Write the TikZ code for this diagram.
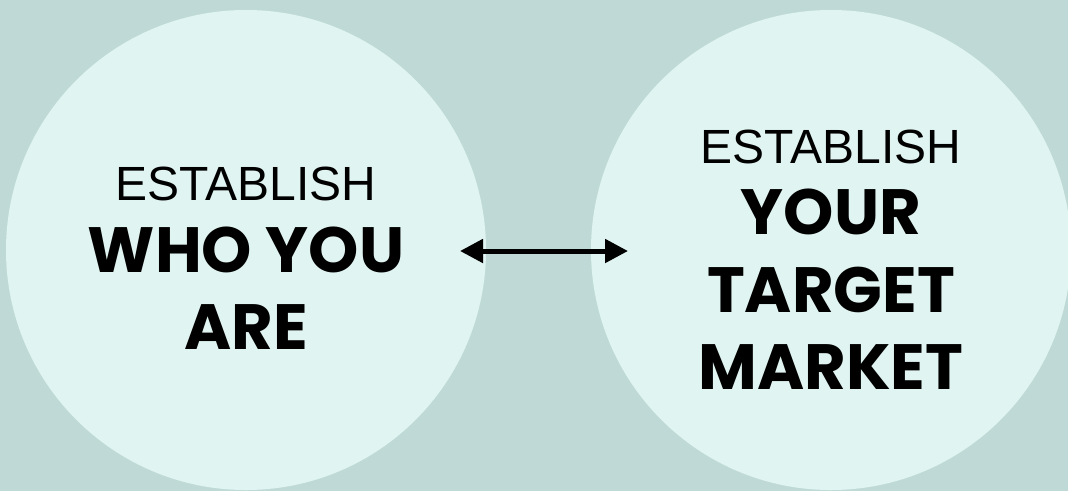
\documentclass[tikz,border=0pt]{standalone}
\usepackage{fontspec}
\setmainfont{Liberation Sans}
\newfontfamily\headfont{Poppins}
\usetikzlibrary{arrows.meta}
\definecolor{bgcol}{RGB}{191,218,214}
\definecolor{circcol}{RGB}{224,244,241}
\tikzset{
  thin line/.style={font=\fontsize{48}{48}\selectfont, anchor=base, inner sep=0pt},
  bold line/.style={font=\headfont\bfseries\fontsize{64}{64}\selectfont, anchor=base, inner sep=0pt},
  bubble/.style={circle, fill=circcol, minimum size=480pt, inner sep=0pt, draw=none},
  link/.style={line width=5pt, {Triangle[length=23pt,width=23pt]}-{Triangle[length=23pt,width=23pt]}}
}
\begin{document}
\begin{tikzpicture}[x=1pt,y=-1pt]
\fill[bgcol] (0,0) rectangle (1068,491);
\useasboundingbox (0,0) rectangle (1068,491);
\begin{scope}
\clip (0,0) rectangle (1068,491);
\node[bubble] (left) at (246,250) {};
\node[bubble] (right) at (831,250) {};
\end{scope}
\node[thin line] (l1) at (246,200) {ESTABLISH};
\node[bold line] (l2) at (246,272) {WHO YOU};
\node[bold line] (l3) at (246,349) {ARE};
\node[thin line] (r1) at (831,163) {ESTABLISH};
\node[bold line] (r2) at (831,234) {YOUR};
\node[bold line] (r3) at (831,312) {TARGET};
\node[bold line] (r4) at (831,389) {MARKET};
\coordinate (a1) at (460,251);
\coordinate (a2) at (628,251);
\draw[link] (a1) -- (a2);
\end{tikzpicture}
\end{document}
